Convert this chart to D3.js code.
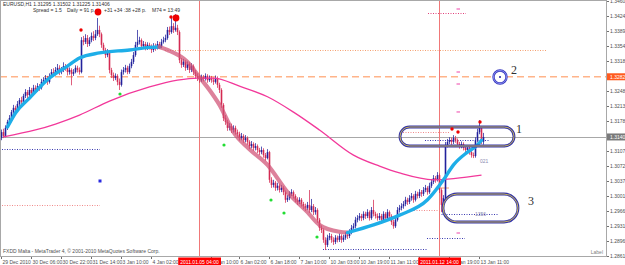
<!DOCTYPE html>
<html>
<head>
<meta charset="utf-8">
<script src="https://cdn.jsdelivr.net/npm/d3@7"></script>
<style>
html, body { margin: 0; padding: 0; background: #fff; }
svg { display: block; font-family: "Liberation Sans", Arial, sans-serif; }
</style>
</head>
<body>
<div id="chart"></div>
<script>
// EURUSD H1 bars, 29 Dec 2010 .. 13 Jan 2011
const firstOpen = 1.3130;
const closes = [
  1.3138,1.3152,1.3143,1.3162,1.3176,1.3185,1.3199,1.3209,1.3204,1.3218,
  1.3227,1.3223,1.3237,1.3246,1.3239,1.3251,1.3244,1.3256,1.3251,1.3260,
  1.3256,1.3270,1.3274,1.3279,1.3270,1.3284,1.3293,1.3289,1.3298,1.3303,
  1.3293,1.3298,1.3307,1.3303,1.3293,1.3298,1.3289,1.3293,1.3303,1.3298,
  1.3293,1.3368,1.3364,1.3373,1.3359,1.3368,1.3378,1.3373,1.3382,1.3392,
  1.3382,1.3357,1.3345,1.3333,1.3340,1.3298,1.3286,1.3279,1.3284,1.3270,
  1.3263,1.3293,1.3298,1.3303,1.3293,1.3307,1.3317,1.3333,1.3357,1.3364,
  1.3368,1.3354,1.3359,1.3350,1.3357,1.3352,1.3345,1.3354,1.3350,1.3359,
  1.3354,1.3364,1.3368,1.3373,1.3392,1.3387,1.3401,1.3392,1.3397,1.3387,
  1.3321,1.3310,1.3317,1.3303,1.3312,1.3298,1.3307,1.3293,1.3284,1.3279,
  1.3274,1.3281,1.3277,1.3284,1.3274,1.3279,1.3274,1.3270,1.3279,1.3263,
  1.3251,1.3216,1.3185,1.3176,1.3162,1.3166,1.3157,1.3162,1.3152,1.3148,
  1.3138,1.3143,1.3133,1.3138,1.3129,1.3119,1.3124,1.3115,1.3119,1.3110,
  1.3105,1.3110,1.3098,1.3091,1.3105,1.3040,1.3028,1.3033,1.3021,1.3026,
  1.3016,1.3021,1.3011,1.2993,1.2997,1.3007,1.3011,1.3002,1.2993,1.2988,
  1.2993,1.2983,1.2978,1.2974,1.2981,1.2969,1.2978,1.2964,1.2969,1.2946,
  1.2927,1.2922,1.2899,1.2887,1.2904,1.2908,1.2899,1.2894,1.2904,1.2899,
  1.2908,1.2899,1.2904,1.2910,1.2908,1.2917,1.2927,1.2931,1.2946,1.2950,
  1.2955,1.2950,1.2960,1.2955,1.2964,1.2950,1.2969,1.2960,1.2955,1.2950,
  1.2955,1.2946,1.2960,1.2950,1.2964,1.2955,1.2941,1.2931,1.2946,1.2969,
  1.2974,1.2978,1.2983,1.2993,1.2988,1.2997,1.3002,1.2993,1.3007,1.3002,
  1.3011,1.3007,1.3016,1.3021,1.3011,1.3026,1.3035,1.3044,1.3040,1.3051,
  1.3016,1.2981,1.2997,1.3122,1.3129,1.3133,1.3129,1.3138,1.3133,1.3124,
  1.3119,1.3124,1.3115,1.3110,1.3115,1.3105,1.3098,1.3096,1.3133,1.3152,
  1.3162,1.31295,1.31406
];
const highs = [
  1.3145,1.3158,1.3160,1.3168,1.3181,1.3192,1.3204,1.3216,1.3214,1.3225,
  1.3232,1.3235,1.3242,1.3253,1.3251,1.3258,1.3256,1.3263,1.3262,1.3267,
  1.3265,1.3277,1.3281,1.3286,1.3284,1.3290,1.3300,1.3302,1.3305,1.3312,
  1.3309,1.3305,1.3316,1.3312,1.3308,1.3304,1.3302,1.3300,1.3309,1.3308,
  1.3304,1.3375,1.3378,1.3382,1.3380,1.3375,1.3386,1.3389,1.3392,1.3420,
  1.3402,1.3386,1.3362,1.3350,1.3347,1.3345,1.3303,1.3292,1.3290,1.3288,
  1.3278,1.3299,1.3305,1.3310,1.3308,1.3313,1.3324,1.3340,1.3364,1.3392,
  1.3376,1.3372,1.3366,1.3364,1.3363,1.3362,1.3358,1.3361,1.3360,1.3366,
  1.3364,1.3371,1.3376,1.3381,1.3399,1.3400,1.3425,1.3408,1.3429,1.3404,
  1.3391,1.3326,1.3324,1.3321,1.3318,1.3316,1.3314,1.3311,1.3298,1.3290,
  1.3285,1.3287,1.3286,1.3290,1.3288,1.3285,1.3284,1.3280,1.3285,1.3283,
  1.3268,1.3255,1.3220,1.3192,1.3181,1.3173,1.3172,1.3168,1.3167,1.3158,
  1.3153,1.3150,1.3147,1.3145,1.3142,1.3133,1.3131,1.3128,1.3126,1.3123,
  1.3115,1.3118,1.3114,1.3103,1.3112,1.3108,1.3046,1.3040,1.3037,1.3033,
  1.3031,1.3028,1.3025,1.3015,1.3004,1.3013,1.3018,1.3015,1.3006,1.2999,
  1.2999,1.2997,1.2988,1.2984,1.2988,1.3016,1.2995,1.2983,1.2976,1.2973,
  1.2950,1.2933,1.2926,1.2905,1.2911,1.2915,1.2913,1.2905,1.2910,1.2909,
  1.2914,1.2912,1.2911,1.2917,1.2916,1.2924,1.2934,1.2938,1.2953,1.2957,
  1.2962,1.2960,1.2966,1.2965,1.2971,1.2968,1.2976,1.2993,1.2965,1.2961,
  1.2962,1.2960,1.2966,1.2964,1.2971,1.2968,1.2959,1.2946,1.2952,1.2976,
  1.2981,1.2985,1.2990,1.3000,1.2998,1.3004,1.3009,1.3006,1.3014,1.3012,
  1.3018,1.3016,1.3023,1.3028,1.3025,1.3033,1.3042,1.3051,1.3049,1.3058,
  1.3055,1.3020,1.3004,1.3129,1.3136,1.3140,1.3139,1.3145,1.3143,1.3137,
  1.3129,1.3130,1.3128,1.3120,1.3121,1.3119,1.3110,1.3104,1.3140,1.3160,
  1.3180,1.3166,1.31502
];
const lows = [
  1.3124,1.3133,1.3138,1.3140,1.3157,1.3171,1.3180,1.3195,1.3197,1.3200,
  1.3212,1.3218,1.3219,1.3232,1.3232,1.3235,1.3238,1.3240,1.3245,1.3247,
  1.3249,1.3252,1.3265,1.3268,1.3263,1.3266,1.3280,1.3284,1.3285,1.3294,
  1.3286,1.3288,1.3293,1.3296,1.3285,1.3287,1.3262,1.3284,1.3290,1.3292,
  1.3287,1.3290,1.3356,1.3359,1.3352,1.3354,1.3363,1.3366,1.3368,1.3378,
  1.3375,1.3350,1.3338,1.3326,1.3328,1.3290,1.3279,1.3272,1.3274,1.3262,
  1.3251,1.3259,1.3287,1.3292,1.3288,1.3289,1.3302,1.3312,1.3329,1.3352,
  1.3358,1.3347,1.3348,1.3344,1.3345,1.3346,1.3338,1.3340,1.3343,1.3346,
  1.3348,1.3349,1.3360,1.3363,1.3369,1.3380,1.3383,1.3385,1.3388,1.3380,
  1.3314,1.3303,1.3305,1.3296,1.3298,1.3291,1.3293,1.3286,1.3277,1.3272,
  1.3268,1.3270,1.3271,1.3273,1.3268,1.3270,1.3268,1.3263,1.3266,1.3256,
  1.3244,1.3209,1.3178,1.3169,1.3155,1.3156,1.3150,1.3151,1.3146,1.3141,
  1.3132,1.3133,1.3127,1.3128,1.3122,1.3112,1.3114,1.3108,1.3109,1.3103,
  1.3098,1.3100,1.3092,1.3085,1.3088,1.3033,1.3021,1.3022,1.3014,1.3015,
  1.3010,1.3011,1.3004,1.2986,1.2988,1.2992,1.3002,1.2996,1.2987,1.2981,
  1.2983,1.2977,1.2971,1.2967,1.2969,1.2962,1.2964,1.2957,1.2958,1.2939,
  1.2920,1.2915,1.2892,1.2875,1.2882,1.2898,1.2892,1.2887,1.2889,1.2893,
  1.2894,1.2892,1.2894,1.2899,1.2901,1.2903,1.2912,1.2921,1.2926,1.2940,
  1.2944,1.2943,1.2945,1.2948,1.2950,1.2944,1.2946,1.2954,1.2949,1.2944,
  1.2945,1.2940,1.2942,1.2944,1.2946,1.2949,1.2934,1.2925,1.2927,1.2942,
  1.2963,1.2968,1.2972,1.2978,1.2981,1.2983,1.2991,1.2986,1.2989,1.2996,
  1.2997,1.3000,1.3002,1.3011,1.3005,1.3007,1.3021,1.3030,1.3033,1.3036,
  1.3009,1.2964,1.2975,1.2992,1.3116,1.3124,1.3122,1.3124,1.3127,1.3118,
  1.3113,1.3114,1.3109,1.3104,1.3105,1.3099,1.3092,1.3091,1.3092,1.3128,
  1.3147,1.3124,1.31225
];

// indicator lines: [bar, value]
const trendPoints = [
  [4,1.3164],[8,1.3197],[15,1.3232],[25,1.3279],[34,1.3307],[40,1.3326],[50,1.3338],
  [65,1.3345],[75,1.3351],[80,1.3352],[84,1.3345],[94,1.3317],[100,1.3281],[105,1.3251],
  [110,1.3216],[117,1.3152],[125,1.3112],[134,1.3075],[144,1.3011],[154,1.2964],
  [160,1.2934],[170,1.2918],[174,1.2916],[187,1.2934],[200,1.2957],[214,1.2993],
  [222,1.3040],[227,1.3075],[234,1.3105],[239,1.3122],[241,1.3133]
];
const slowMaPoints = [
  [2,1.3141],[18,1.3157],[28,1.3171],[40,1.3192],[55,1.3225],[75,1.3258],[89,1.3274],
  [99,1.3279],[107,1.3279],[120,1.3260],[134,1.3235],[147,1.3199],[160,1.3157],
  [177,1.3098],[190,1.3072],[200,1.3056],[217,1.3040],[241,1.3051]
];

// axis labels
const yTicks = [1.34600,1.34240,1.33890,1.33540,1.33180,1.32480,1.32130,1.31780,
  1.31075,1.30725,1.30370,1.30015,1.29660,1.29310,1.28960,1.28610];
const timeTicks = [
  [1,'29 Dec 2010'],[16,'30 Dec 06:00'],[31,'30 Dec 22:00'],[46,'31 Dec 14:00'],
  [61,'3 Jan 10:00'],[76,'4 Jan 02:00'],[106,'5 Jan 10:00'],[120,'6 Jan 02:00'],
  [135,'6 Jan 18:00'],[150,'7 Jan 10:00'],[165,'10 Jan 03:00'],[180,'10 Jan 19:00'],
  [195,'11 Jan 11:00'],[210,'12 Jan 03:00'],[225,'12 Jan 19:00'],[240,'13 Jan 11:00']
];
const timeMarkers = [[100,'2011.01.05 04:00'],[220,'2011.01.12 14:00']];
const bidPrice = 1.31406;
const alertPrice = 1.32820;

// drawn objects: [fromBar, toBar, price]
const navyLevels = [[1.5,50.5,1.31123],[162,214,1.28774],[213,245,1.31335],[220,250,1.29597],[214,233,1.29033]];
const salmonLevels = [[1.5,50.5,1.29808],[202,225,1.31523],[205,223,1.29691]];
const orangeLevels = [[83,274,1.33449]];
const pinkLevels = [[214.5,233.5,1.34318]];
const orangeMarks = [[218,224,1.31640],[220,225,1.30207]];
const magentaTicks = [1.34412,1.32932,1.32650,1.31993,1.29150];
const magentaBar = 229.5;
const bigRedDots = [[49.5,1.34342],[88.5,1.34201]];
const smallRedDots = [[41,1.33919],[86,1.34224],[226.5,1.31593],[229.5,1.31523],[240.5,1.31758]];
const greenDots = [[60.5,1.32415],[112.5,1.31217],[136,1.29925],[142.5,1.29620],[159,1.29056]];
const blueMarks = [[50.5,1.30372]];
const capsules = [[200.5,257.5,1.31640,1.31194],[222,259.5,1.30066,1.29409]];
const ringMarker = [250.5,1.32815];
const zoneLabels = [[258.5,1.31499,'1'],[256,1.32885,'2'],[264.5,1.29808,'3']];
const smallTexts = [[240.5,1.30795,'021'],[238,1.29550,'1356']];

const header1 = 'EURUSD,H1  1.31295 1.31502 1.31225 1.31406';
const header2 = [[33,'Spread = 1.5'],[67,'Daily  = 91 p.'],[104,'+31 +34 :38 +28 p.'],[152,'M74  = 13:49']];
const footer = 'FXDD Malta - MetaTrader 4, \u00a9 2001-2010 MetaQuotes Software Corp.';

// ---- setup ----
const W = 625, H = 265;
const R = 606, B = 256;

const svg = d3.select('#chart').append('svg').attr('width', W).attr('height', H);

const x = d3.scaleLinear().domain([0, 303.5]).range([-1, R]);
const y = d3.scaleLinear().domain([1.28610, 1.34600]).range([B, 1]);

svg.append('clipPath').attr('id', 'plotclip')
  .append('rect').attr('x', 0).attr('y', 0).attr('width', R).attr('height', B);

const plot = svg.append('g').attr('clip-path', 'url(#plotclip)');

// horizontal reference lines
plot.append('line')
  .attr('x1', 0).attr('x2', R).attr('y1', Math.round(y(bidPrice)) + 0.5).attr('y2', Math.round(y(bidPrice)) + 0.5)
  .attr('stroke', '#a8a8a8').attr('stroke-width', 1);
plot.append('line')
  .attr('x1', 0).attr('x2', R).attr('y1', y(alertPrice)).attr('y2', y(alertPrice))
  .attr('stroke', '#ffb48a').attr('stroke-width', 1.4).attr('stroke-dasharray', '7,4');

function dotted(levels, color) {
  plot.selectAll(null).data(levels).join('line')
    .attr('x1', d => x(d[0])).attr('x2', d => x(d[1]))
    .attr('y1', d => Math.round(y(d[2])) + 0.5).attr('y2', d => Math.round(y(d[2])) + 0.5)
    .attr('stroke', color).attr('stroke-width', 1).attr('stroke-dasharray', '1,1.5');
}
dotted(navyLevels, '#3a3ab0');
dotted(salmonLevels, '#f08a8a');
dotted(orangeLevels, '#f5a070');
dotted(pinkLevels, '#e0407a');

plot.selectAll(null).data(orangeMarks).join('line')
  .attr('x1', d => x(d[0])).attr('x2', d => x(d[1]))
  .attr('y1', d => y(d[2])).attr('y2', d => y(d[2]))
  .attr('stroke', '#f5a070').attr('stroke-width', 1);

// vertical time markers
plot.selectAll(null).data(timeMarkers).join('line')
  .attr('x1', d => x(d[0]) + 0.5).attr('x2', d => x(d[0]) + 0.5)
  .attr('y1', 0).attr('y2', B)
  .attr('stroke', '#f07878').attr('stroke-width', 1);

// candles
const bars = closes.map((c, i) => ({
  i, c, h: highs[i], l: lows[i], o: i === 0 ? firstOpen : closes[i - 1]
}));
const upCol = '#22229c', downCol = '#d42a52';
const candles = plot.append('g');
candles.selectAll('line').data(bars).join('line')
  .attr('x1', d => x(d.i) + 0.5).attr('x2', d => x(d.i) + 0.5)
  .attr('y1', d => y(d.h)).attr('y2', d => y(d.l))
  .attr('stroke', d => d.c >= d.o ? upCol : downCol)
  .attr('stroke-opacity', 0.75).attr('stroke-width', 1);
candles.selectAll('rect').data(bars).join('rect')
  .attr('x', d => x(d.i) - 0.3).attr('width', 1.6)
  .attr('y', d => y(Math.max(d.o, d.c)))
  .attr('height', d => Math.max(1, Math.abs(y(d.o) - y(d.c))))
  .attr('fill', d => d.c >= d.o ? upCol : downCol);

// slow moving average
const lineGen = d3.line().x(d => x(d[0]) + 0.5).y(d => y(d[1])).curve(d3.curveMonotoneX);
plot.append('path').datum(slowMaPoints)
  .attr('d', lineGen).attr('fill', 'none')
  .attr('stroke', '#f2389a').attr('stroke-width', 1.3);

// trend line, coloured by direction
const runs = [];
let run = [trendPoints[0]], dir = null;
for (let k = 1; k < trendPoints.length; k++) {
  const dNow = trendPoints[k][1] >= trendPoints[k - 1][1] ? 'up' : 'down';
  if (dir !== null && dNow !== dir) {
    runs.push({dir, pts: run});
    run = [trendPoints[k - 1]];
  }
  dir = dNow;
  run.push(trendPoints[k]);
}
runs.push({dir, pts: run});
plot.selectAll(null).data(runs).join('path')
  .attr('d', d => lineGen(d.pts)).attr('fill', 'none')
  .attr('stroke', d => d.dir === 'up' ? '#1eaee8' : '#d05074')
  .attr('stroke-opacity', d => d.dir === 'up' ? 1 : 0.72)
  .attr('stroke-width', d => d.dir === 'up' ? 3.4 : 4.2)
  .attr('stroke-linecap', 'round');

// magenta ticks
plot.selectAll(null).data(magentaTicks).join('line')
  .attr('x1', x(magentaBar) - 1.5).attr('x2', x(magentaBar) + 2)
  .attr('y1', d => y(d)).attr('y2', d => y(d))
  .attr('stroke', '#ee44aa').attr('stroke-width', 1);

// capsules
capsules.forEach(c => {
  const x0 = x(c[0]), x1 = x(c[1]), y0 = y(c[2]), y1 = y(c[3]);
  const h = y1 - y0;
  plot.append('rect').attr('x', x0).attr('y', y0).attr('width', x1 - x0).attr('height', h)
    .attr('rx', h / 2).attr('fill', 'none').attr('stroke', '#3434a8').attr('stroke-width', 2.8);
  plot.append('rect').attr('x', x0).attr('y', y0).attr('width', x1 - x0).attr('height', h)
    .attr('rx', h / 2).attr('fill', 'none').attr('stroke', '#d4c050').attr('stroke-width', 0.9);
});

// ring marker
plot.append('circle').attr('cx', x(ringMarker[0])).attr('cy', y(ringMarker[1])).attr('r', 6.5)
  .attr('fill', '#fff').attr('stroke', '#3a3ac0').attr('stroke-width', 2.4);
plot.append('circle').attr('cx', x(ringMarker[0])).attr('cy', y(ringMarker[1])).attr('r', 6.5)
  .attr('fill', 'none').attr('stroke', '#a8b0ff').attr('stroke-width', 0.7);
plot.append('circle').attr('cx', x(ringMarker[0])).attr('cy', y(ringMarker[1])).attr('r', 1)
  .attr('fill', '#2020a0');

// dots
plot.selectAll(null).data(bigRedDots).join('circle')
  .attr('cx', d => x(d[0])).attr('cy', d => y(d[1])).attr('r', 3.4).attr('fill', '#ee0000');
plot.selectAll(null).data(smallRedDots).join('circle')
  .attr('cx', d => x(d[0])).attr('cy', d => y(d[1])).attr('r', 1.7).attr('fill', '#ee0000');
plot.selectAll(null).data(greenDots).join('circle')
  .attr('cx', d => x(d[0])).attr('cy', d => y(d[1])).attr('r', 1.6).attr('fill', '#22dd33');
plot.selectAll(null).data(blueMarks).join('rect')
  .attr('x', d => x(d[0]) - 1.5).attr('y', d => y(d[1]) - 1.5).attr('width', 3).attr('height', 3)
  .attr('fill', '#2a2ae0');

// zone labels
plot.selectAll(null).data(zoneLabels).join('text')
  .attr('x', d => x(d[0])).attr('y', d => y(d[1]))
  .attr('font-family', '"Liberation Serif", "DejaVu Serif", serif').attr('font-size', 12)
  .attr('fill', '#303030').text(d => d[2]);
plot.selectAll(null).data(smallTexts).join('text')
  .attr('x', d => x(d[0])).attr('y', d => y(d[1]))
  .attr('font-size', 5).attr('fill', '#8a8ab0').text(d => d[2]);

// header / footer text
const small = 5;
plot.append('text').attr('x', 3).attr('y', 6).attr('font-size', small).attr('fill', '#303030').text(header1);
plot.selectAll(null).data(header2).join('text')
  .attr('x', d => d[0]).attr('y', 11.5).attr('font-size', small).attr('fill', '#303030').text(d => d[1]);
plot.append('text').attr('x', 3).attr('y', 253).attr('font-size', small).attr('fill', '#505050').text(footer);
plot.append('text').attr('x', 603).attr('y', 254).attr('text-anchor', 'end')
  .attr('font-size', small).attr('fill', '#808080').text('Label');

// frame
const frameCol = '#a8a8a8';
svg.append('line').attr('x1', 0).attr('x2', R).attr('y1', 0.5).attr('y2', 0.5).attr('stroke', frameCol);
svg.append('line').attr('x1', R + 0.5).attr('x2', R + 0.5).attr('y1', 0).attr('y2', B + 1).attr('stroke', frameCol);
svg.append('line').attr('x1', 0).attr('x2', R).attr('y1', B + 0.5).attr('y2', B + 0.5).attr('stroke', frameCol);
svg.append('line').attr('x1', 0.5).attr('x2', 0.5).attr('y1', 0).attr('y2', B).attr('stroke', frameCol);

// price axis
const yAxis = svg.append('g');
yAxis.selectAll('line').data(yTicks).join('line')
  .attr('x1', R + 1).attr('x2', R + 3)
  .attr('y1', d => Math.round(y(d)) + 0.5).attr('y2', d => Math.round(y(d)) + 0.5)
  .attr('stroke', '#707070');
yAxis.selectAll('text').data(yTicks).join('text')
  .attr('x', R + 4).attr('y', d => y(d) + 1.8)
  .attr('font-size', small).attr('fill', '#505050').text(d => d.toFixed(5));

function priceTag(p, fill) {
  const g = svg.append('g');
  g.append('rect').attr('x', R + 1).attr('y', y(p) - 3.5).attr('width', W - R).attr('height', 7).attr('fill', fill);
  g.append('text').attr('x', R + 4).attr('y', y(p) + 1.8).attr('font-size', small).attr('fill', '#fff').text(p.toFixed(5));
}
priceTag(alertPrice, '#ff5a1e');
priceTag(bidPrice, '#7a7a7a');

// time axis
const xAxis = svg.append('g');
xAxis.selectAll('line').data(timeTicks).join('line')
  .attr('x1', d => x(d[0]) + 0.5).attr('x2', d => x(d[0]) + 0.5)
  .attr('y1', B + 1).attr('y2', B + 3).attr('stroke', '#707070');
xAxis.selectAll('text').data(timeTicks).join('text')
  .attr('x', d => x(d[0]) + 1.5).attr('y', B + 7.5)
  .attr('font-size', small).attr('fill', '#505050').text(d => d[1]);

timeMarkers.forEach(m => {
  const g = svg.append('g');
  const t = g.append('text').attr('x', x(m[0]) + 0.5).attr('y', B + 7.5)
    .attr('text-anchor', 'middle').attr('font-size', small).attr('fill', '#fff').text(m[1]);
  const bb = t.node().getBBox();
  g.insert('rect', 'text').attr('x', bb.x - 2).attr('y', B + 1.5).attr('width', bb.width + 4).attr('height', 7.5)
    .attr('fill', '#ff0000');
});
</script>
</body>
</html>
